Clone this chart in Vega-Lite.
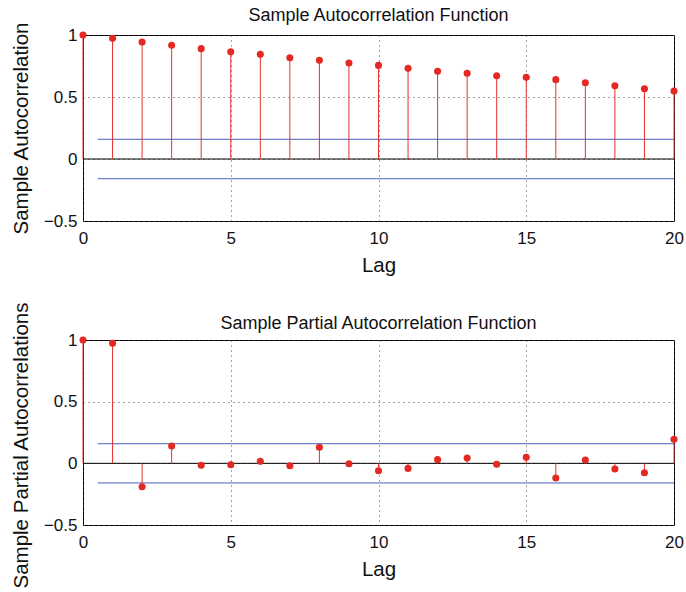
{
  "$schema": "https://vega.github.io/schema/vega-lite/v6.json",
  "padding": {"left": 10, "top": 6, "right": 5, "bottom": 5},
  "spacing": 119,
  "bounds": "flush",
  "config": {
    "font": "Liberation Sans",
    "view": {"stroke": "#000", "strokeWidth": 1},
    "axis": {
      "labelFontSize": 17, "titleFontSize": 20.5, "labelColor": "#111", "titleColor": "#111",
      "titleFontWeight": "normal", "domain": false, "ticks": false, "labelFlush": false,
      "gridColor": "#444", "gridDash": [1, 4], "gridOpacity": 1
    },
    "axisX": {"labelPadding": 9, "titlePadding": 9},
    "axisY": {"labelPadding": 6, "titlePadding": 12},
    "title": {"fontSize": 18, "fontWeight": "normal", "color": "#111"}
  },
  "datasets": {
    "acf": [
      {"lag": 0, "value": 1}, {"lag": 1, "value": 0.973}, {"lag": 2, "value": 0.944},
      {"lag": 3, "value": 0.917}, {"lag": 4, "value": 0.89}, {"lag": 5, "value": 0.865},
      {"lag": 6, "value": 0.844}, {"lag": 7, "value": 0.817}, {"lag": 8, "value": 0.796},
      {"lag": 9, "value": 0.774}, {"lag": 10, "value": 0.755}, {"lag": 11, "value": 0.731},
      {"lag": 12, "value": 0.707}, {"lag": 13, "value": 0.691}, {"lag": 14, "value": 0.672},
      {"lag": 15, "value": 0.659}, {"lag": 16, "value": 0.64}, {"lag": 17, "value": 0.615},
      {"lag": 18, "value": 0.591}, {"lag": 19, "value": 0.567}, {"lag": 20, "value": 0.548}
    ],
    "pacf": [
      {"lag": 0, "value": 1}, {"lag": 1, "value": 0.973}, {"lag": 2, "value": -0.19},
      {"lag": 3, "value": 0.14}, {"lag": 4, "value": -0.016}, {"lag": 5, "value": -0.011},
      {"lag": 6, "value": 0.016}, {"lag": 7, "value": -0.019}, {"lag": 8, "value": 0.13},
      {"lag": 9, "value": -0.003}, {"lag": 10, "value": -0.06}, {"lag": 11, "value": -0.041},
      {"lag": 12, "value": 0.03}, {"lag": 13, "value": 0.043}, {"lag": 14, "value": -0.008},
      {"lag": 15, "value": 0.049}, {"lag": 16, "value": -0.119}, {"lag": 17, "value": 0.027},
      {"lag": 18, "value": -0.046}, {"lag": 19, "value": -0.076}, {"lag": 20, "value": 0.195}
    ],
    "bounds": [
      {"lag": 0.5, "lag2": 20, "value": 0.159}, {"lag": 0.5, "lag2": 20, "value": -0.159}
    ],
    "zero": [{"lag": 0, "lag2": 20, "value": 0}]
  },
  "vconcat": [
    {
      "title": {"text": "Sample Autocorrelation Function", "offset": -4},
      "width": 591, "height": 186,
      "encoding": {
        "x": {"field": "lag", "type": "quantitative", "scale": {"domain": [0, 20], "nice": false},
              "axis": {"values": [0, 5, 10, 15, 20], "title": "Lag", "grid": true}},
        "y": {"field": "value", "type": "quantitative", "scale": {"domain": [-0.5, 1], "nice": false},
              "axis": {"values": [-0.5, 0, 0.5, 1], "format": "~g", "title": "Sample Autocorrelation", "grid": true}}
      },
      "layer": [
        {"data": {"name": "bounds"}, "mark": {"type": "rule", "color": "#4a5fc1", "strokeWidth": 1},
         "encoding": {"x2": {"field": "lag2"}}},
        {"data": {"name": "zero"}, "mark": {"type": "rule", "color": "#000", "strokeWidth": 1},
         "encoding": {"x2": {"field": "lag2"}}},
        {"data": {"name": "acf"}, "mark": {"type": "rule", "color": "#e5312a", "strokeWidth": 1},
         "encoding": {"y2": {"datum": 0}}},
        {"data": {"name": "acf"}, "mark": {"type": "point", "filled": true, "color": "#e32a22", "opacity": 1, "size": 50}}
      ]
    },
    {
      "title": {"text": "Sample Partial Autocorrelation Function", "offset": -32},
      "width": 591, "height": 185,
      "encoding": {
        "x": {"field": "lag", "type": "quantitative", "scale": {"domain": [0, 20], "nice": false},
              "axis": {"values": [0, 5, 10, 15, 20], "title": "Lag", "grid": true}},
        "y": {"field": "value", "type": "quantitative", "scale": {"domain": [-0.5, 1], "nice": false},
              "axis": {"values": [-0.5, 0, 0.5, 1], "format": "~g", "title": "Sample Partial Autocorrelations", "titleY": 105, "grid": true}}
      },
      "layer": [
        {"data": {"name": "bounds"}, "mark": {"type": "rule", "color": "#4a5fc1", "strokeWidth": 1},
         "encoding": {"x2": {"field": "lag2"}}},
        {"data": {"name": "zero"}, "mark": {"type": "rule", "color": "#000", "strokeWidth": 1},
         "encoding": {"x2": {"field": "lag2"}}},
        {"data": {"name": "pacf"}, "mark": {"type": "rule", "color": "#e5312a", "strokeWidth": 1},
         "encoding": {"y2": {"datum": 0}}},
        {"data": {"name": "pacf"}, "mark": {"type": "point", "filled": true, "color": "#e32a22", "opacity": 1, "size": 50}}
      ]
    }
  ]
}
